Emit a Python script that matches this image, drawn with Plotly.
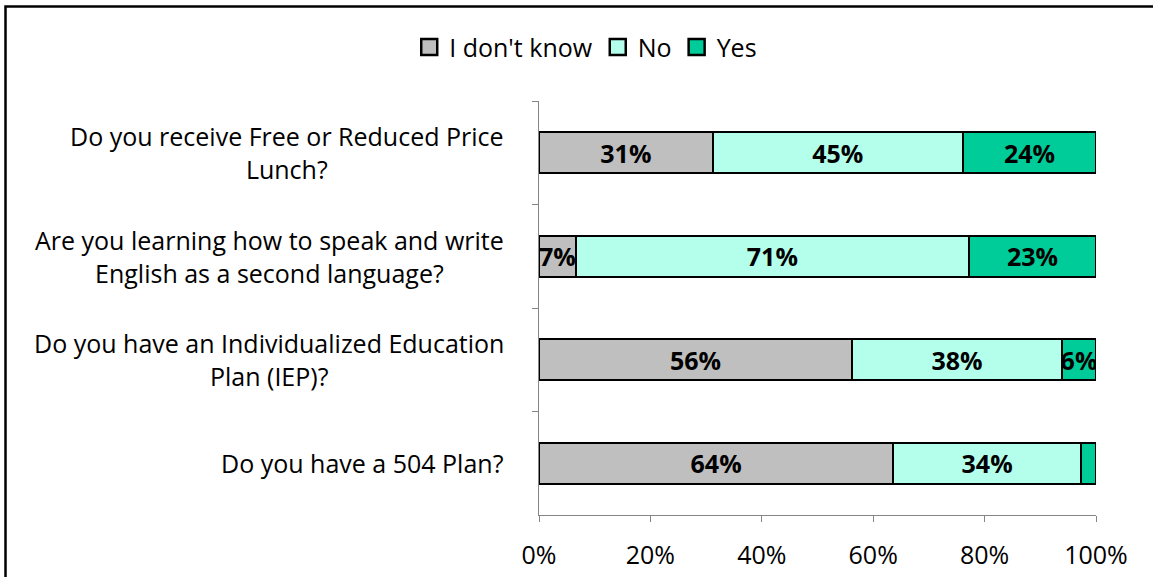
import plotly.graph_objects as go

# Survey questions, listed top to bottom
questions = [
    "Do you receive Free or Reduced Price<br>Lunch?",
    "Are you learning how to speak and write<br>English as a second language?",
    "Do you have an Individualized Education<br>Plan (IEP)?",
    "Do you have a 504 Plan?",
]
keys = ["q1", "q2", "q3", "q4"]

# Share of responses (%) per question
dont_know = [31.2, 6.6, 56.2, 63.6]
no = [44.9, 70.6, 37.7, 33.7]
yes = [23.9, 22.8, 6.1, 2.7]

series = [
    ("I don't know", dont_know, "#BFBFBF"),
    ("No", no, "#B3FFEC"),
    ("Yes", yes, "#00CC99"),
]

FONT = "Open Sans"
SIZE = 25

fig = go.Figure()
for name, vals, color in series:
    labels = [f"{round(v)}%" if v >= 5 else "" for v in vals]
    fig.add_trace(go.Bar(
        name=name,
        y=keys,
        x=vals,
        orientation="h",
        width=0.4,
        marker=dict(color=color, line=dict(color="black", width=2)),
        text=labels,
        textposition="inside",
        insidetextanchor="middle",
        textangle=0,
        constraintext="none",
        textfont=dict(family=FONT, size=SIZE, color="black", weight="bold"),
        hoverinfo="skip",
        showlegend=False,
    ))
    # legend entry: bordered square swatch
    fig.add_trace(go.Scatter(
        name=name, x=[None], y=[None], mode="markers",
        marker=dict(symbol="square", size=16, color=color,
                    line=dict(color="black", width=2.5)),
        showlegend=True, hoverinfo="skip",
    ))

# Question labels, centred line by line to the left of the axis
for k, q in zip(keys, questions):
    fig.add_annotation(
        x=-0.06, xref="paper", y=k, yref="y",
        text=q, showarrow=False, xanchor="right", yanchor="middle",
        align="center", font=dict(family=FONT, size=SIZE, color="black"),
    )

fig.update_layout(
    barmode="stack",
    width=1153, height=577,
    margin=dict(l=539, r=57, t=101, b=62),
    paper_bgcolor="white", plot_bgcolor="white",
    font=dict(family=FONT, size=SIZE, color="black"),
    showlegend=True,
    legend=dict(
        orientation="h", xref="container", yref="container",
        x=0.508, y=0.918, xanchor="center", yanchor="middle",
        font=dict(family=FONT, size=SIZE, color="black"),
        itemwidth=30, traceorder="normal",
    ),
    xaxis=dict(
        range=[0, 100], tickvals=[0, 20, 40, 60, 80, 100],
        ticktext=["0%", "20%", "40%", "60%", "80%", "100%"],
        showgrid=False, zeroline=False,
        showline=True, linecolor="#868686", linewidth=1,
        ticks="outside", ticklen=6, tickcolor="#868686",
        ticklabelstandoff=12, automargin=False,
        tickfont=dict(family=FONT, size=SIZE, color="black"),
    ),
    yaxis=dict(
        categoryorder="array", categoryarray=keys, autorange="reversed",
        showticklabels=False, showgrid=False, zeroline=False,
        showline=True, linecolor="#868686", linewidth=1,
        ticks="outside", ticklen=6, tickcolor="#868686",
        tickson="boundaries", automargin=False,
    ),
    shapes=[dict(
        type="rect", xref="paper", yref="paper",
        x0=(5.5 - 539) / 557, x1=(1165 - 539) / 557,
        y0=-(590 - 515) / 414, y1=(515 - 6.5) / 414,
        line=dict(color="black", width=2.5), fillcolor="rgba(0,0,0,0)",
        layer="above",
    )],
)

fig.write_html("out.html")
